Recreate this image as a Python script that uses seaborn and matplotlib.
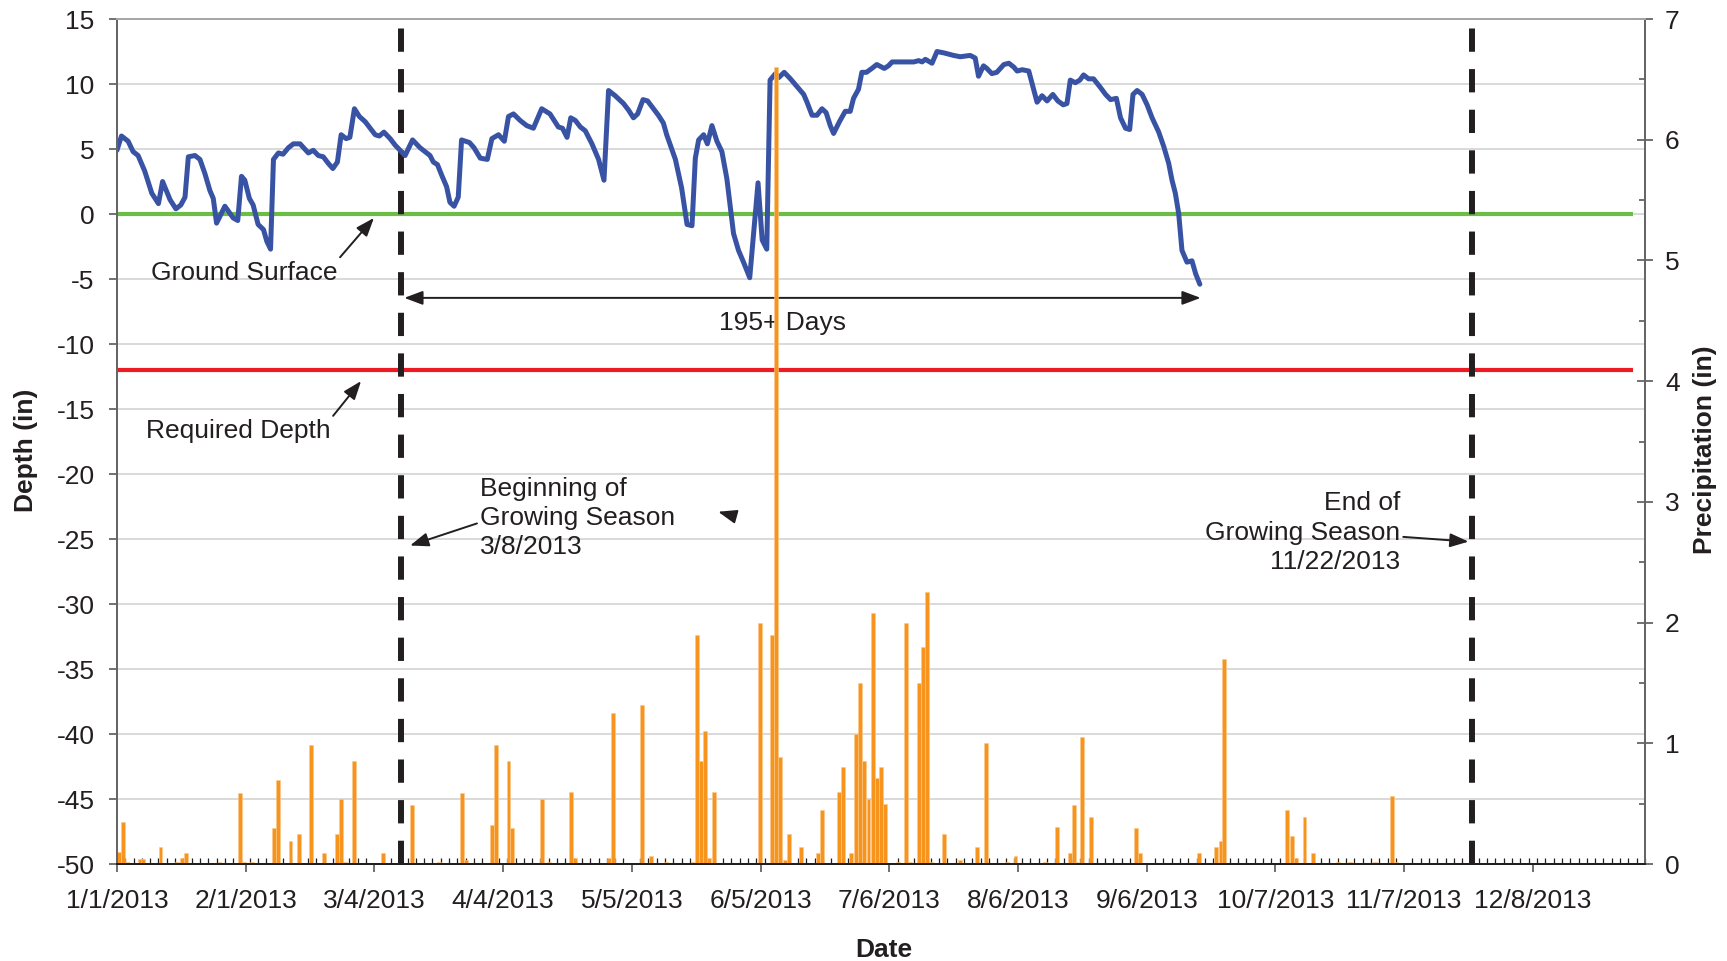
import matplotlib
matplotlib.use("Agg")
import numpy as np
import pandas as pd
import matplotlib.pyplot as plt
import seaborn as sns
from matplotlib.ticker import FixedLocator, MultipleLocator

# Water table depth (in), days counted from 1/1/2013
depth_day = [0, 1.1, 2.7, 3.9, 5.1, 6.7, 8.4, 10, 11, 12.8, 14.2, 15.4, 16.4, 17.2, 18.8, 20,
             21.2, 22.4, 23.2, 24, 26, 28, 29.1, 30, 30.8, 31.9, 32.8, 34, 35.3, 36.1, 37, 37.7,
             38.9, 40, 41.3, 42.5, 44.1, 46.1, 47.3, 48.5, 49.7, 50.9, 52, 53.1, 54, 55.2, 56.1,
             57.2, 58.4, 59.8, 61, 62.2, 63.2, 64.3, 65.8, 67, 68.2, 69.4, 71.2, 73, 74.2, 75.4,
             76.2, 77.2, 78.2, 79.4, 80.2, 81.2, 82.2, 83, 84.9, 86, 87.5, 89.2, 90.3, 91.9, 93.3,
             94.3, 95.5, 97.1, 98.7, 100.3, 102.3, 104.3, 106.3, 107.3, 108.4, 109.3, 110.4, 111.6,
             112.8, 114.4, 116, 117.3, 118.4, 120, 122, 123.2, 124.4, 125.4, 126.7, 127.8, 129.2,
             130.4, 131.6, 132.4, 134.5, 136, 137.3, 138.5, 139.3, 140.1, 141.3, 142.2, 143.3,
             144.5, 145.7, 146.9, 148.5, 149.7, 150.9, 152.4, 154.4, 155.4, 156.5, 157.3, 158.6,
             159.4, 160.7, 162.2, 163.8, 165.4, 166.2, 167.4, 168.6, 169.8, 170.8, 171.8, 172.6,
             174, 175.4, 176.6, 177.4, 178.6, 179.4, 180.5, 181.8, 183, 184.8, 185.8, 186.7, 188.7,
             191.9, 193.1, 193.9, 194.7, 196.3, 197.5, 199.1, 201.5, 203.1, 205.5, 206.7, 207.5,
             208.7, 209.5, 210.7, 211.9, 213.6, 214.8, 216, 216.8, 218, 219.6, 220.6, 221.6, 222.8,
             224, 225.4, 226.6, 227.9, 228.8, 229.6, 230.8, 231.9, 232.8, 234, 235.2, 236.7, 238.1,
             239.3, 240.7, 241.7, 242.9, 243.9, 244.7, 245.7, 246.9, 248.1, 249.3, 250.9, 252.1,
             253.3, 254.1, 254.9, 255.7, 256.5, 257.7, 258.9, 259.8, 260.8]
depth_in = [4.9, 6.0, 5.6, 4.8, 4.5, 3.3, 1.6, 0.8, 2.5, 1.1, 0.4, 0.7, 1.3, 4.4, 4.5, 4.2,
            3.1, 1.8, 1.2, -0.7, 0.6, -0.3, -0.5, 2.9, 2.6, 1.2, 0.7, -0.8, -1.2, -2.1, -2.7, 4.2,
            4.7, 4.6, 5.1, 5.4, 5.4, 4.7, 4.9, 4.5, 4.4, 3.9, 3.5, 4.0, 6.1, 5.8, 5.9,
            8.1, 7.5, 7.1, 6.6, 6.1, 6.0, 6.3, 5.8, 5.3, 4.9, 4.5, 5.7, 5.1, 4.8, 4.5,
            4.0, 3.8, 3.0, 2.1, 0.9, 0.6, 1.3, 5.7, 5.5, 5.1, 4.3, 4.2, 5.8, 6.1, 5.6,
            7.5, 7.7, 7.2, 6.8, 6.6, 8.1, 7.7, 6.7, 6.6, 5.9, 7.4, 7.2, 6.7,
            6.4, 5.4, 4.2, 2.6, 9.5, 9.1, 8.5, 8.0, 7.4, 7.7, 8.8, 8.7, 8.1,
            7.6, 7.0, 6.1, 4.2, 2.0, -0.8, -0.9, 4.3, 5.7, 6.1, 5.4, 6.8,
            5.6, 4.8, 2.7, -1.5, -2.8, -3.7, -4.9, 2.4, -2.0, -2.7, 10.3, 10.8,
            10.5, 10.9, 10.4, 9.8, 9.2, 8.6, 7.6, 7.6, 8.1, 7.8, 6.8, 6.2,
            7.1, 7.9, 7.9, 8.9, 9.6, 10.9, 10.9, 11.2, 11.5, 11.2, 11.4, 11.7, 11.7,
            11.7, 11.8, 11.7, 11.9, 11.6, 12.5, 12.4, 12.2, 12.1, 12.2, 12.0, 10.6,
            11.4, 11.2, 10.8, 10.9, 11.5, 11.6, 11.3, 11.0, 11.1, 11.0, 9.8, 8.6, 9.1,
            8.7, 9.2, 8.7, 8.4, 8.5, 10.3, 10.1, 10.3, 10.7, 10.4, 10.4, 9.8, 9.2,
            8.8, 8.9, 7.4, 6.6, 6.5, 9.2, 9.5, 9.2, 8.4, 7.4, 6.3, 5.2,
            3.9, 2.6, 1.6, 0.05, -2.8, -3.7, -3.6, -4.6, -5.4]

# Daily precipitation (in)
precip_day = [0.5, 1.5, 2.5, 5.5, 6.2, 10.5, 14.5, 15.6, 16.6, 24.7, 29.6, 30.5, 32.6, 37.8, 38.8,
              41.8, 43.9, 46.8, 49.9, 52.9, 53.9, 54.9, 57.0, 64.0, 71.0, 77.6, 83.2, 84.0, 90.3,
              91.2, 94.3, 95.2, 102.3, 104.0, 109.4, 110.4, 118.6, 119.4, 126.5, 128.6, 131.6,
              132.2, 138.7, 139.7, 140.6, 141.7, 142.7, 143.7, 154.8, 157.8, 158.8, 159.8, 160.8,
              161.8, 164.8, 168.8, 169.9, 173.9, 174.8, 176.9, 178.0, 178.9, 180.0, 181.0, 182.0,
              183.0, 184.0, 185.0, 188.0, 190.1, 191.0, 193.1, 194.1, 195.1, 196.0, 199.1, 203.1,
              207.1, 209.2, 214.4, 216.4, 223.4, 226.4, 229.5, 230.4, 231.0, 232.4, 234.5, 245.5,
              246.5, 260.7, 264.7, 265.8, 266.7, 281.8, 282.9, 283.9, 286.0, 288.0, 294.0, 297.0,
              303.0, 307.1, 308.0]
precip_in = [0.10, 0.35, 0.02, 0.04, 0.04, 0.14, 0.02, 0.05, 0.09, 0.02, 0.59, 0.02, 0.02, 0.30, 0.70,
             0.19, 0.25, 0.99, 0.09, 0.25, 0.54, 0.02, 0.85, 0.09, 0.49, 0.02, 0.59, 0.03, 0.32,
             0.99, 0.85, 0.30, 0.54, 0.02, 0.60, 0.05, 0.05, 1.25, 1.32, 0.07, 0.01,
             0.02, 0.02, 1.90, 0.85, 1.10, 0.05, 0.60, 2.00, 1.90, 6.60, 0.89, 0.03,
             0.25, 0.14, 0.09, 0.45, 0.60, 0.80, 0.09, 1.08, 1.50, 0.85, 0.54, 2.08,
             0.71, 0.80, 0.50, 0.02, 2.00, 0.02, 1.50, 1.80, 2.25, 0.02, 0.25, 0.03,
             0.14, 1.00, 0.02, 0.07, 0.02, 0.31, 0.09, 0.49, 0.02, 1.05, 0.39, 0.30,
             0.09, 0.09, 0.14, 0.19, 1.70, 0.45, 0.23, 0.05, 0.39, 0.09, 0.02, 0.02,
             0.02, 0.56, 0.02]

tick_days = [0, 31, 62, 93, 124, 155, 186, 217, 248, 279, 310, 341]
tick_labels = ['1/1/2013', '2/1/2013', '3/4/2013', '4/4/2013', '5/5/2013', '6/5/2013',
               '7/6/2013', '8/6/2013', '9/6/2013', '10/7/2013', '11/7/2013', '12/8/2013']

ground_surface = 0
required_depth = -12
season_start = 68.4
season_end = 326.4

sns.set_theme(style="white")
plt.rcParams['font.family'] = ['Liberation Sans', 'DejaVu Sans']
plt.rcParams['axes.unicode_minus'] = False
txt = '#231F20'
fs = 19

fig, ax1 = plt.subplots(figsize=(17.27, 9.61), dpi=100)
fig.subplots_adjust(left=0.0677, right=0.9525, top=0.9802, bottom=0.1009)
ax2 = ax1.twinx()

ax1.set_xlim(0, 368)
ax1.set_ylim(-50, 15)
ax2.set_ylim(0, 7)

ax1.yaxis.set_major_locator(MultipleLocator(5))
ax1.yaxis.grid(True, color='#D9D9D9', lw=1.4)
ax1.set_axisbelow(True)

ax1.hlines(ground_surface, 0, 365, color='#6CBD45', lw=3.0, zorder=2)
ax1.hlines(required_depth, 0, 365, color='#ED1C24', lw=3.0, zorder=2)
for d in [season_start, season_end]:
    ax1.axvline(d, color=txt, lw=4.3, dashes=(3.9, 2.9), zorder=3)

df = pd.DataFrame({'day': depth_day, 'depth': depth_in})
sns.lineplot(data=df, x='day', y='depth', ax=ax1, color='#3953A4', lw=3.6,
             estimator=None, sort=False, zorder=4)

ax2.bar(precip_day, precip_in, width=0.95, color='#F7941D', edgecolor='#FBC88A', linewidth=0.4)

# annotations
arrow = dict(arrowstyle='-|>,head_length=0.8,head_width=0.3', color=txt, lw=1.4,
             mutation_scale=14, shrinkA=0, shrinkB=0)
ax1.annotate('Ground Surface', xy=(61.9, -0.3), xytext=(30.6, -4.5), fontsize=fs, color=txt,
             ha='center', va='center', arrowprops=dict(arrow, relpos=(1.0, 1.0)))
ax1.annotate('Required Depth', xy=(58.8, -12.85), xytext=(29.2, -16.7), fontsize=fs, color=txt,
             ha='center', va='center', arrowprops=dict(arrow, relpos=(1.0, 1.0)))
ax1.annotate('', xy=(69.2, -6.45), xytext=(261, -6.45),
             arrowprops=dict(arrow, arrowstyle='<|-|>,head_length=0.8,head_width=0.3'))
ax1.text(160.2, -8.4, '195+ Days', fontsize=fs, color=txt, ha='center', va='center')
ax1.annotate('Beginning of\nGrowing Season\n3/8/2013', xy=(70.6, -25.5), xytext=(87.5, -23.4),
             fontsize=fs, color=txt, ha='left', va='center', linespacing=1.27,
             arrowprops=dict(arrow, relpos=(0.0, 0.45)))
ax1.annotate('', xy=(144.8, -22.9), xytext=(148.2, -23.2), arrowprops=dict(arrow))
ax1.annotate('End of\nGrowing Season\n11/22/2013', xy=(325.5, -25.2), xytext=(309, -24.5),
             fontsize=fs, color=txt, ha='right', va='center', linespacing=1.27,
             multialignment='right', arrowprops=dict(arrow, relpos=(1.0, 0.45)))

# axes, ticks, labels
ax1.xaxis.set_major_locator(FixedLocator(tick_days))
ax1.set_xticklabels(tick_labels)
ax1.xaxis.set_minor_locator(MultipleLocator(2))
ax2.yaxis.set_major_locator(MultipleLocator(1))
ax2.yaxis.set_minor_locator(MultipleLocator(0.5))

ax1.tick_params(axis='y', direction='out', length=6, width=1.2, color='#595959',
                labelsize=fs, labelcolor=txt, pad=10, left=True)
ax1.tick_params(axis='x', which='major', direction='out', length=6, width=1.2, color='#595959',
                labelsize=fs, labelcolor=txt, pad=12, bottom=True)
ax1.tick_params(axis='x', which='minor', direction='in', length=4, width=0.9, color=txt, bottom=True)
ax2.tick_params(axis='y', which='major', direction='inout', length=11, width=1.2, color='#595959',
                labelsize=fs, labelcolor=txt, pad=9, right=True)
ax2.tick_params(axis='y', which='minor', direction='in', length=4, width=1.2, color='#595959', right=True)

for ax in (ax1, ax2):
    ax.spines['left'].set_color('#666666')
    ax.spines['right'].set_color('#666666')
    ax.spines['top'].set_color('#A6A6A6')
    ax.spines['bottom'].set_color(txt)
    for s in ax.spines.values():
        s.set_linewidth(1.4)

ax1.set_xlabel('Date', fontsize=fs, fontweight='bold', color=txt)
ax1.xaxis.set_label_coords(0.502, -0.102)
ax1.xaxis.label.set_va('center')
ax1.set_ylabel('Depth (in)', fontsize=fs, fontweight='bold', color=txt)
ax1.yaxis.set_label_coords(-0.0595, 0.49)
ax1.yaxis.label.set_va('center')
ax2.set_ylabel('Precipitation (in)', fontsize=fs, fontweight='bold', color=txt)
ax2.yaxis.set_label_coords(1.0395, 0.49)
ax2.yaxis.label.set_va('center')

plt.savefig('out.png', dpi=100)
